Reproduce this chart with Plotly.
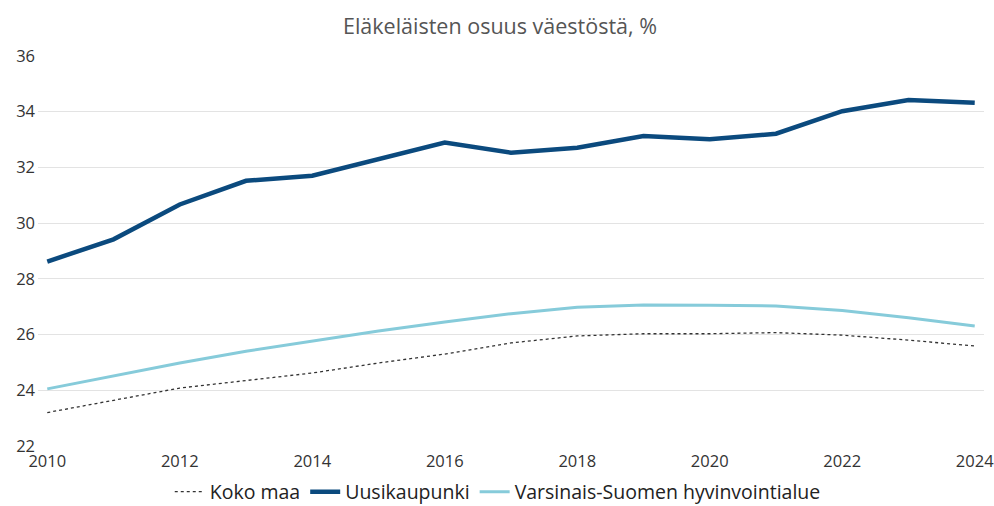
import plotly.graph_objects as go

years = list(range(2010, 2025))
koko_maa = [23.2, 23.65, 24.08, 24.35, 24.62, 24.98, 25.3, 25.7, 25.95, 26.03, 26.03, 26.07, 25.98, 25.8, 25.59]
uusikaupunki = [28.62, 29.42, 30.67, 31.52, 31.7, 32.28, 32.89, 32.53, 32.71, 33.13, 33.01, 33.21, 34.02, 34.42, 34.32]
varsinais_suomi = [24.05, 24.52, 24.98, 25.4, 25.77, 26.13, 26.45, 26.75, 26.98, 27.06, 27.05, 27.03, 26.86, 26.6, 26.31]

x_ticks = list(range(2010, 2025, 2))
y_ticks = list(range(22, 37, 2))

font_family = "Open Sans, Noto Sans, sans-serif"

fig = go.Figure()
fig.add_trace(go.Scatter(x=years, y=koko_maa, name="Koko maa", mode="lines",
                         line=dict(color="#333333", width=1.3, dash="dot")))
fig.add_trace(go.Scatter(x=years, y=uusikaupunki, name="Uusikaupunki", mode="lines",
                         line=dict(color="#0B4A7E", width=4.5)))
fig.add_trace(go.Scatter(x=years, y=varsinais_suomi, name="Varsinais-Suomen hyvinvointialue", mode="lines",
                         line=dict(color="#86CBDA", width=3)))

fig.update_layout(
    width=994, height=506,
    margin=dict(l=38, r=10, t=56, b=60, autoexpand=False),
    paper_bgcolor="white", plot_bgcolor="white",
    font=dict(family=font_family, size=15, color="#333333"),
    title=dict(text="Eläkeläisten osuus väestöstä, %", x=0.503, xanchor="center",
               y=0.947, yanchor="middle",
               font=dict(family=font_family, size=21.5, color="#555555")),
    xaxis=dict(range=[2009.86, 2024.14], tickvals=x_ticks, showgrid=False, zeroline=False,
               showline=False, ticks="", automargin=False, ticklabeloverflow="allow",
               tickfont=dict(size=16.5, color="#333333"), ticklabelstandoff=3),
    yaxis=dict(range=[22, 36], tickvals=y_ticks, showgrid=True, gridcolor="#E3E3E3",
               gridwidth=1, zeroline=False, showline=False, ticks="", automargin=False,
               ticklabeloverflow="allow",
               tickfont=dict(size=16.5, color="#333333"), ticklabelstandoff=2),
    legend=dict(orientation="h", x=0.486, xanchor="center", y=-0.118, yanchor="middle",
                font=dict(size=19.5, color="#222222"), itemwidth=30, tracegroupgap=0),
    showlegend=True,
)

fig.write_html(
    "out.html",
    config={"displayModeBar": False},
    post_script="document.body.style.margin='0';document.body.style.overflow='hidden';",
)
